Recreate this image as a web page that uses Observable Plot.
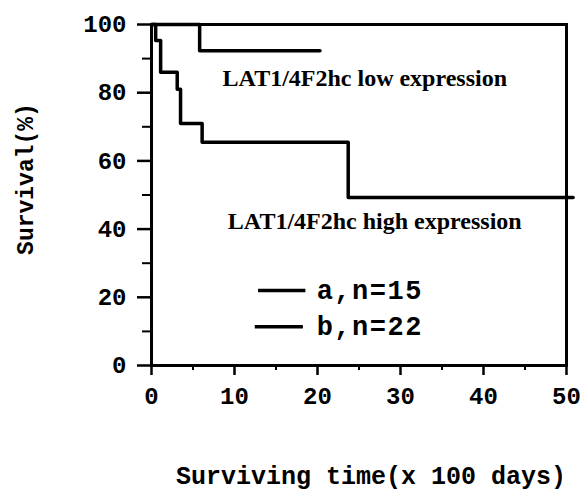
<!DOCTYPE html>
<html><head><meta charset="utf-8">
<script src="https://cdn.jsdelivr.net/npm/d3@7"></script>
<script src="https://cdn.jsdelivr.net/npm/@observablehq/plot@0.6"></script>
<style>body{margin:0;background:#fff} #chart{width:580px;height:492px}</style>
</head><body><div id="chart"></div>
<script>
// Kaplan-Meier curves (time in x100 days, survival %)
const lowTime = [0, 5.8, 20.3];
const lowSurvival = [100, 92.3, 92.3];
const highTime = [0, 0.5, 1.1, 3.1, 3.5, 6.1, 23.7, 50.8];
const highSurvival = [100, 95.3, 86, 81, 71, 65.5, 49.3, 49.3];
const xTicks = [0, 10, 20, 30, 40, 50];
const xMinorTicks = [5, 15, 25, 35, 45];
const yTicks = [0, 20, 40, 60, 80, 100];
const yMinorTicks = [10, 30, 50, 70, 90];
const legendLabels = ["a,n=15", "b,n=22"];
const lowLabel = "LAT1/4F2hc low expression";
const highLabel = "LAT1/4F2hc high expression";
const xTitle = "Surviving time(x 100 days)";
const yTitle = "Survival(%)";

const lowData = lowTime.map((t, i) => ({t, s: lowSurvival[i]}));
const highData = highTime.map((t, i) => ({t, s: highSurvival[i]}));
const legendData = legendLabels.map((label, i) => ({label, i}));

const mono = "'Liberation Mono', 'DejaVu Sans Mono', monospace";
const serif = "'Liberation Serif', 'DejaVu Serif', serif";

const chart = Plot.plot({
  width: 580, height: 492,
  marginLeft: 151, marginRight: 14, marginTop: 24, marginBottom: 127,
  x: {domain: [0, 50]},
  y: {domain: [0, 100]},
  style: {fontFamily: mono, fontWeight: "bold", color: "#000", background: "#fff"},
  marks: [
    Plot.frame({stroke: "#000", strokeWidth: 3}),
    Plot.axisY(yTicks, {tickSize: 14, tickPadding: 11, fontSize: 24, strokeWidth: 2.5, label: null}),
    Plot.axisY(yMinorTicks, {tickSize: 9, text: null, strokeWidth: 2, label: null}),
    Plot.axisX(xTicks, {tickSize: 10, tickPadding: 11, fontSize: 24, strokeWidth: 2.5, label: null}),
    Plot.axisX(xMinorTicks, {tickSize: 5, text: null, strokeWidth: 2, label: null}),
    Plot.line(lowData, {x: "t", y: "s", curve: "step-after", stroke: "#000", strokeWidth: 3.5}),
    Plot.line(highData, {x: "t", y: "s", curve: "step-after", stroke: "#000", strokeWidth: 3.5}),
    Plot.text([lowLabel], {x: 25.7, y: 84.2, text: d => d, fontFamily: serif, fontWeight: "bold", fontSize: 24}),
    Plot.text([highLabel], {x: 26.9, y: 42.3, text: d => d, fontFamily: serif, fontWeight: "bold", fontSize: 24}),
    Plot.ruleY(legendData, {y: d => d.i === 0 ? 22 : 11.4, x1: d => d.i === 0 ? 12.9 : 12.5, x2: d => d.i === 0 ? 18.6 : 18.3, stroke: "#000", strokeWidth: 3.5}),
    Plot.text(legendData, {x: 19.9, y: d => d.i === 0 ? 22 : 11.4, text: "label", textAnchor: "start", fontSize: 27}),
    Plot.text([xTitle], {frameAnchor: "bottom", lineAnchor: "middle", dy: 110, dx: 12, text: d => d, fontSize: 25}),
    Plot.text([yTitle], {frameAnchor: "left", textAnchor: "middle", lineAnchor: "middle", dx: -126, dy: -16, rotate: -90, text: d => d, fontSize: 23})
  ]
});
d3.select(chart).selectAll("text").filter(function() { return legendLabels.includes(this.textContent); })
  .style("letter-spacing", "1.5px");
document.getElementById("chart").appendChild(chart);
</script>
</body></html>
